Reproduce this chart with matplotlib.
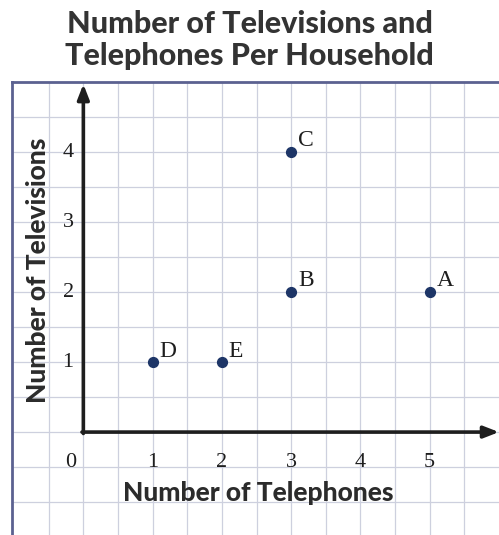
import numpy as np
import matplotlib.pyplot as plt

# Data
households = ["A", "B", "C", "D", "E"]
telephones = [5, 3, 3, 1, 2]
televisions = [2, 2, 4, 1, 1]
x_ticks = [1, 2, 3, 4, 5]
y_ticks = [1, 2, 3, 4]

GRID = "#cdd0de"
FRAME = "#5b6190"
INK = "#1e1e1e"
DOT = "#1d3567"
SANS = ["Lato", "DejaVu Sans"]
SERIF = ["Liberation Serif", "DejaVu Serif"]

fig = plt.figure(figsize=(4.99, 5.35), dpi=100)
ax = fig.add_axes([12 / 499, 0.0, 487 / 499, 453 / 535])

ax.set_xlim(-1.03, 6.0)
ax.set_ylim(-1.47, 5.0)

# graph paper grid, every half unit
for gx in np.arange(-0.5, 6.0, 0.5):
    ax.axvline(gx, color=GRID, lw=0.9, zorder=0)
for gy in np.arange(-1.0, 5.0, 0.5):
    ax.axhline(gy, color=GRID, lw=0.9, zorder=0)

ax.set_xticks([])
ax.set_yticks([])
for side in ["right", "bottom"]:
    ax.spines[side].set_visible(False)
for side in ["left", "top"]:
    ax.spines[side].set_color(FRAME)
    ax.spines[side].set_linewidth(2)

# the drawn axes with arrow heads
arrow = dict(arrowstyle="-|>,head_length=0.9,head_width=0.35", lw=2.6, color=INK,
             shrinkA=0, shrinkB=0)
ax.annotate("", xy=(6.0, 0), xytext=(-0.02, 0), arrowprops=arrow, zorder=3)
ax.annotate("", xy=(0, 4.97), xytext=(0, -0.02), arrowprops=arrow, zorder=3)

# tick numbers
ax.text(-0.19, -0.43, "0", ha="center", va="center", fontsize=16, family=SERIF, color=INK)
for t in x_ticks:
    ax.text(t, -0.43, str(t), ha="center", va="center", fontsize=16, family=SERIF, color=INK)
for t in y_ticks:
    ax.text(-0.22, t, str(t), ha="center", va="center", fontsize=16, family=SERIF, color=INK)

# points and their letters
ax.scatter(telephones, televisions, s=50, color=DOT, zorder=4)
for name, xv, yv in zip(households, telephones, televisions):
    ax.annotate(name, (xv, yv), xytext=(5, 4), textcoords="offset points",
                ha="left", va="baseline", fontsize=17, family=SERIF, color=INK)

ax.text(2.52, -0.87, "Number of Telephones", ha="center", va="center",
        fontsize=19, fontweight="black", family=SANS, color="#2b2b2b")
ax.text(-0.66, 2.31, "Number of Televisions", ha="center", va="center", rotation=90,
        fontsize=19, fontweight="black", family=SANS, color="#2b2b2b")

fig.text(0.50, 1 - 40 / 535, "Number of Televisions and\nTelephones Per Household",
         ha="center", va="center", fontsize=22, fontweight="black", family=SANS,
         color="#333333", linespacing=1.2)

fig.savefig("out.png", dpi=100)
